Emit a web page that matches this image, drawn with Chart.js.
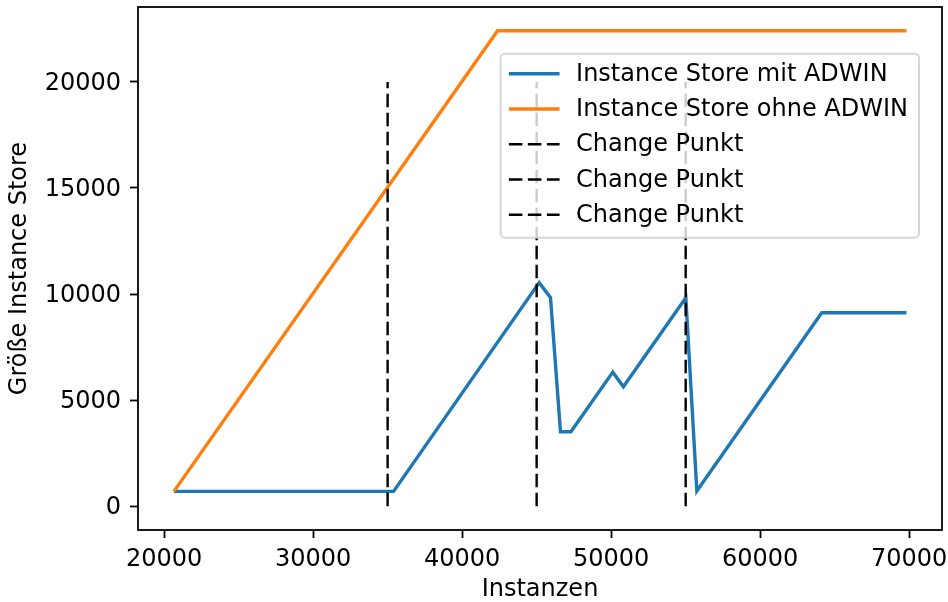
<!DOCTYPE html>
<html>
<head>
  <title>Instance Store mit / ohne ADWIN</title>
  <script src="https://cdn.jsdelivr.net/npm/chart.js"></script>
  <style>
    body {
      margin: 0;
      background: white;
    }
  </style>
</head>
<body>
  <canvas id="storeChart" width="948" height="602"></canvas>

  <script>
    // values
    const mitAdwinX = [20660, 35400, 45170, 45930, 46600, 47300, 50110, 50820, 55010, 55750, 64130, 69820];
    const mitAdwinY = [700, 700, 10540, 9830, 3510, 3510, 6320, 5630, 9830, 720, 9120, 9120];
    const ohneAdwinX = [20660, 42380, 69820];
    const ohneAdwinY = [700, 22410, 22410];
    const changePunkte = [35000, 45000, 55000];
    const changeBottom = 0;
    const changeTop = 20000;
    const xTicks = [20000, 30000, 40000, 50000, 60000, 70000];
    const yTicks = [0, 5000, 10000, 15000, 20000];

    const FONT = { family: 'DejaVu Sans', size: 24 };

    const datasets = [
      {
        label: 'Instance Store mit ADWIN',
        data: mitAdwinX.map((x, i) => ({ x, y: mitAdwinY[i] })),
        borderColor: '#1f77b4',
        borderWidth: 3.4,
        order: 3
      },
      {
        label: 'Instance Store ohne ADWIN',
        data: ohneAdwinX.map((x, i) => ({ x, y: ohneAdwinY[i] })),
        borderColor: '#ff7f0e',
        borderWidth: 3.4,
        order: 2
      }
    ];
    changePunkte.forEach(x => {
      datasets.push({
        label: 'Change Punkt',
        data: [{ x, y: changeBottom }, { x, y: changeTop }],
        borderColor: 'black',
        borderWidth: 2.4,
        borderDash: [13.5, 5.5],
        order: 1
      });
    });

    // axes box + legend drawn matplotlib-style
    const framePlugin = {
      id: 'frame',
      afterDatasetsDraw(chart) {
        const { ctx, chartArea: a } = chart;
        ctx.save();
        ctx.strokeStyle = 'black';
        ctx.lineWidth = 1.8;
        ctx.setLineDash([]);
        ctx.strokeRect(a.left, a.top, a.right - a.left, a.bottom - a.top);

        // legend
        ctx.font = FONT.size + 'px ' + FONT.family;
        const items = chart.data.datasets;
        let textW = 0;
        items.forEach(d => { textW = Math.max(textW, ctx.measureText(d.label).width); });
        const boxW = 8.3 + 50.7 + 16.5 + textW + 11;
        const boxH = 184;
        const bx = a.right - 23 - boxW;
        const by = a.top + 46.7;
        ctx.beginPath();
        ctx.roundRect(bx, by, boxW, boxH, 4.5);
        ctx.fillStyle = 'rgba(255,255,255,0.8)';
        ctx.fill();
        ctx.strokeStyle = 'rgba(204,204,204,0.8)';
        ctx.lineWidth = 2;
        ctx.stroke();

        items.forEach((d, i) => {
          const y = by + 20 + i * 35.25;
          ctx.beginPath();
          ctx.strokeStyle = d.borderColor;
          ctx.lineWidth = d.borderWidth;
          ctx.setLineDash(d.borderDash || []);
          ctx.moveTo(bx + 8.3, y);
          ctx.lineTo(bx + 59, y);
          ctx.stroke();
          ctx.setLineDash([]);
          ctx.fillStyle = 'black';
          ctx.textBaseline = 'middle';
          ctx.textAlign = 'left';
          ctx.fillText(d.label, bx + 75.5, y + 1);
        });
        ctx.restore();
      }
    };

    new Chart(document.getElementById('storeChart'), {
      type: 'line',
      data: { datasets },
      plugins: [framePlugin],
      options: {
        responsive: false,
        animation: false,
        events: [],
        layout: { padding: { left: 0, top: 7, right: 6, bottom: 0 } },
        elements: {
          point: { radius: 0 },
          line: { tension: 0, fill: false }
        },
        plugins: {
          legend: { display: false },
          tooltip: { enabled: false }
        },
        scales: {
          x: {
            type: 'linear',
            min: 18250,
            max: 72200,
            afterBuildTicks: scale => { scale.ticks = xTicks.map(v => ({ value: v })); },
            afterFit: scale => {
              scale.height = 72;
              scale.paddingLeft = 0;
              scale.paddingRight = 0;
            },
            ticks: {
              color: 'black',
              font: FONT,
              padding: 7,
              maxRotation: 0,
              autoSkip: false,
              callback: v => String(v)
            },
            grid: {
              drawOnChartArea: false,
              drawTicks: true,
              tickLength: 8,
              tickColor: 'black',
              tickWidth: 1.8
            },
            border: { display: false },
            title: {
              display: true,
              text: 'Instanzen',
              color: 'black',
              font: { ...FONT, lineHeight: 1 },
              padding: { top: 0, bottom: 0 }
            }
          },
          y: {
            type: 'linear',
            min: -1120,
            max: 23530,
            afterBuildTicks: scale => { scale.ticks = yTicks.map(v => ({ value: v })); },
            afterFit: scale => {
              scale.width = 138;
              scale.paddingTop = 0;
              scale.paddingBottom = 0;
            },
            ticks: {
              color: 'black',
              font: FONT,
              padding: 9,
              labelOffset: 1.5,
              autoSkip: false,
              callback: v => String(v)
            },
            grid: {
              drawOnChartArea: false,
              drawTicks: true,
              tickLength: 8,
              tickColor: 'black',
              tickWidth: 1.8
            },
            border: { display: false },
            title: {
              display: true,
              text: 'Größe Instance Store',
              color: 'black',
              font: { ...FONT, lineHeight: 1 },
              padding: { top: 8, bottom: 0 }
            }
          }
        }
      }
    });
  </script>
</body>
</html>
